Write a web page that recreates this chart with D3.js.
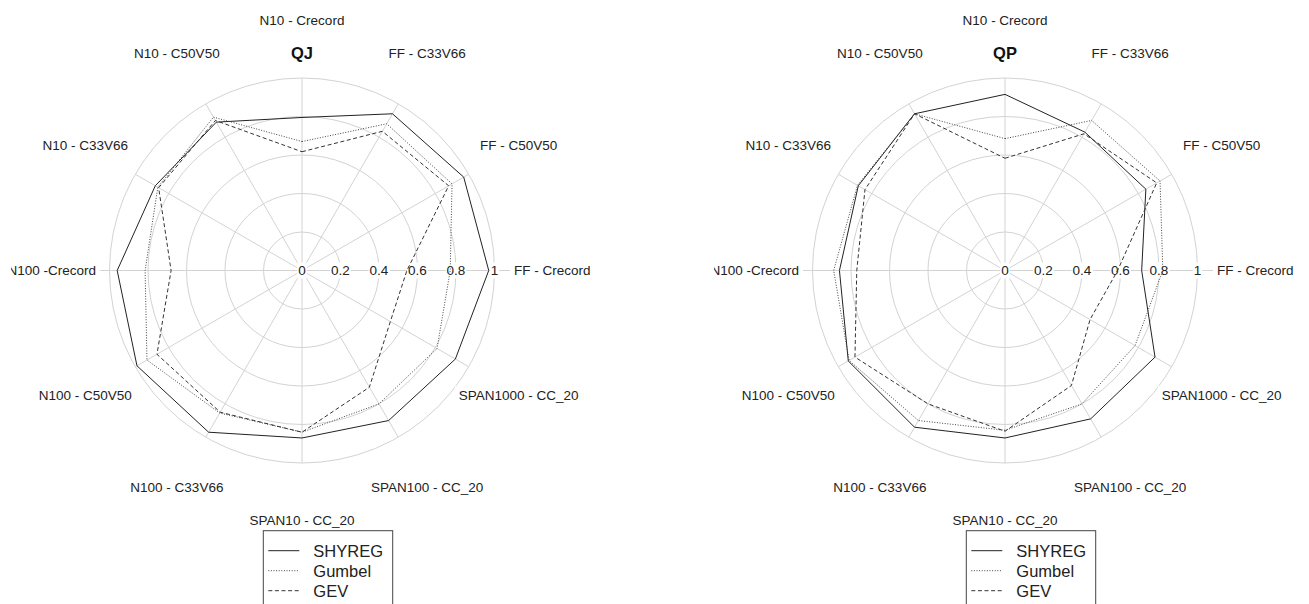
<!DOCTYPE html>
<html>
<head>
<meta charset="utf-8">
<script src="https://cdn.jsdelivr.net/npm/d3@7"></script>
<style>
  body { margin: 0; background: #fff; }
  svg { display: block; font-family: "Liberation Sans", Arial, Helvetica, sans-serif; }
</style>
</head>
<body>
<svg id="chart" width="1309" height="604"></svg>
<script>
// axes, clockwise from the top
const axes = ["N10 - Crecord", "FF - C33V66", "FF - C50V50", "FF - Crecord",
  "SPAN1000 - CC_20", "SPAN100 - CC_20", "SPAN10 - CC_20", "N100 - C33V66",
  "N100 - C50V50", "N100 -Crecord", "N10 - C33V66", "N10 - C50V50"];
const tickValues = [0, 0.2, 0.4, 0.6, 0.8, 1];
const tickLabels = ["0", "0.2", "0.4", "0.6", "0.8", "1"];
const seriesNames = ["SHYREG", "Gumbel", "GEV"];

// QJ panel
const qjShyreg = [0.795, 0.94, 0.97, 0.97, 0.92, 0.90, 0.87, 0.97, 0.99, 0.96, 0.88, 0.89];
const qjGumbel = [0.67, 0.88, 0.90, 0.77, 0.81, 0.80, 0.84, 0.855, 0.93, 0.815, 0.865, 0.92];
const qjGev    = [0.617, 0.835, 0.88, 0.545, 0.53, 0.70, 0.84, 0.85, 0.87, 0.68, 0.86, 0.90];

// QP panel
const qpShyreg = [0.915, 0.83, 0.845, 0.71, 0.90, 0.89, 0.87, 0.94, 0.94, 0.86, 0.88, 0.94];
const qpGumbel = [0.685, 0.90, 0.93, 0.82, 0.78, 0.80, 0.83, 0.90, 0.935, 0.89, 0.885, 0.94];
const qpGev    = [0.583, 0.82, 0.91, 0.585, 0.51, 0.69, 0.835, 0.80, 0.90, 0.77, 0.84, 0.94];

const panels = [
  { title: "QJ", cx: 302, series: [qjShyreg, qjGumbel, qjGev] },
  { title: "QP", cx: 1005, series: [qpShyreg, qpGumbel, qpGev] }
];

const cy = 270.5;
const R = 192.5;
const gridColor = "#d3d3d3";
const textColor = "#222";
const dashes = [null, "1,1.6", "4,2.6"];
const strokes = ["#222", "#444", "#333"];

const svg = d3.select("#chart");

const rScale = d3.scaleLinear().domain([0, 1]).range([0, R]);
const aScale = d3.scaleLinear().domain([0, axes.length]).range([0, 2 * Math.PI]);

function polar(v, i) {
  const a = aScale(i);
  return [Math.sin(a) * rScale(v), -Math.cos(a) * rScale(v)];
}

// label with a white box behind it
function boxedText(g, x, y, txt, size, weight, pad) {
  const t = g.append("text")
    .attr("x", x).attr("y", y)
    .attr("text-anchor", "middle")
    .attr("dominant-baseline", "central")
    .attr("font-size", size + "px")
    .attr("font-weight", weight || "normal")
    .attr("fill", textColor)
    .text(txt);
  const bb = t.node().getBBox();
  g.insert("rect", () => t.node())
    .attr("x", bb.x - pad).attr("y", bb.y - pad / 2)
    .attr("width", bb.width + 2 * pad).attr("height", bb.height + pad)
    .attr("fill", "#fff");
  return t;
}

panels.forEach((p, pi) => {
  const clipId = "clip" + pi;
  svg.append("clipPath").attr("id", clipId)
    .append("rect")
    .attr("x", p.cx - 291).attr("y", 0)
    .attr("width", 650).attr("height", 604);

  const g = svg.append("g")
    .attr("clip-path", `url(#${clipId})`)
    .append("g")
    .attr("transform", `translate(${p.cx},${cy})`);

  // rings
  g.selectAll(".ring").data(tickValues.slice(1)).join("circle")
    .attr("class", "ring")
    .attr("r", d => rScale(d))
    .attr("fill", "none")
    .attr("stroke", gridColor)
    .attr("stroke-width", 1);

  // spokes
  g.selectAll(".spoke").data(axes).join("line")
    .attr("class", "spoke")
    .attr("x1", 0).attr("y1", 0)
    .attr("x2", (d, i) => polar(1, i)[0])
    .attr("y2", (d, i) => polar(1, i)[1])
    .attr("stroke", gridColor)
    .attr("stroke-width", 1);

  // horizontal reference line through the centre
  g.append("line")
    .attr("x1", -rScale(1.1)).attr("x2", rScale(1.1))
    .attr("y1", 0).attr("y2", 0)
    .attr("stroke", gridColor)
    .attr("stroke-width", 1);

  // axis labels
  const labels = g.append("g");
  axes.forEach((name, i) => {
    const [x, y] = polar(1.3, i);
    boxedText(labels, x, y, name, 13.5, "normal", 4);
  });

  // radial tick labels along the horizontal line
  const tl = g.append("g");
  tickValues.forEach((v, k) => {
    boxedText(tl, rScale(v), 0, tickLabels[k], 13.5, "normal", 1);
  });

  // series
  const line = d3.lineRadial()
    .angle((d, i) => aScale(i))
    .radius(d => rScale(d))
    .curve(d3.curveLinearClosed);

  g.selectAll(".series").data(p.series).join("path")
    .attr("class", "series")
    .attr("d", d => line(d))
    .attr("fill", "none")
    .attr("stroke", (d, k) => strokes[k])
    .attr("stroke-width", 1)
    .attr("stroke-dasharray", (d, k) => dashes[k]);

  // title
  g.append("text")
    .attr("x", 0).attr("y", 53 - cy)
    .attr("text-anchor", "middle")
    .attr("dominant-baseline", "central")
    .attr("font-size", "16.5px")
    .attr("font-weight", "bold")
    .attr("fill", "#111")
    .text(p.title);

  // legend
  const lg = svg.append("g").attr("transform", `translate(${p.cx - 38.7},530.7)`);
  lg.append("rect")
    .attr("x", 0).attr("y", 0)
    .attr("width", 129.4).attr("height", 100)
    .attr("fill", "#fff")
    .attr("stroke", "#444")
    .attr("stroke-width", 1);
  seriesNames.forEach((s, k) => {
    const yy = 20 + k * 20;
    lg.append("line")
      .attr("x1", 5).attr("x2", 36)
      .attr("y1", yy).attr("y2", yy)
      .attr("stroke", strokes[k])
      .attr("stroke-width", 1)
      .attr("stroke-dasharray", dashes[k]);
    lg.append("text")
      .attr("x", 50).attr("y", yy)
      .attr("dominant-baseline", "central")
      .attr("font-size", "16.5px")
      .attr("fill", textColor)
      .text(s);
  });
});
</script>
</body>
</html>
